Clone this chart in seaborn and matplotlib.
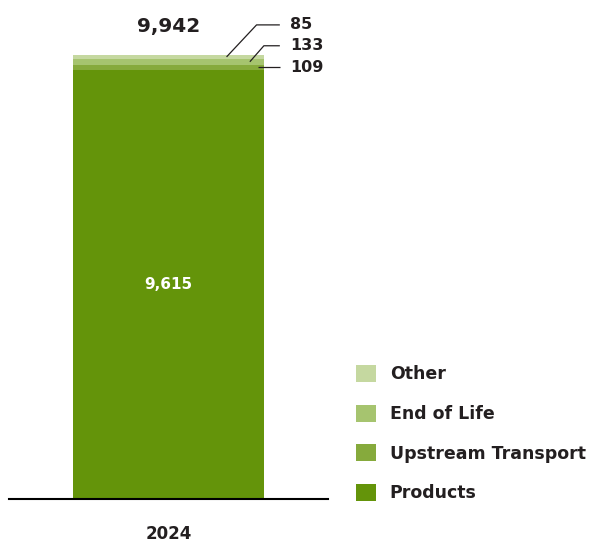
import matplotlib
matplotlib.use("Agg")
import matplotlib.pyplot as plt
import seaborn as sns
import pandas as pd
import numpy as np
from matplotlib.patches import Patch

# Emissions by category for the reporting year
years = ["2024"]
categories = ["Products", "Upstream Transport", "End of Life", "Other"]
values = [9615, 109, 133, 85]
colors = ["#64940a", "#86aa3c", "#a6c46f", "#c5d8a0"]
value_labels = ["9,615", "109", "133", "85"]
total_label = "9,942"

sns.set_theme(style="white")
plt.rcParams["font.family"] = ["DejaVu Sans"]
TEXT = "#231f20"

W, H, DPI = 595, 542, 100
fig = plt.figure(figsize=(W / DPI, H / DPI), dpi=DPI)
ax_left, ax_right, ax_base = 9, 328, 499
ax = fig.add_axes([ax_left / W, (H - ax_base) / H, (ax_right - ax_left) / W, ax_base / H])

total = sum(values)
px_per_unit = 444 / total
ymax = ax_base / px_per_unit
ax.set_ylim(0, ymax)

# stacked bar: draw cumulative heights from the top down
cum = np.cumsum(values)
df = pd.DataFrame({"year": years * len(categories),
                   "category": categories,
                   "cum": cum})
for i in range(len(categories) - 1, -1, -1):
    sns.barplot(data=df.iloc[[i]], x="year", y="cum", color=colors[i],
                width=0.6, saturation=1, ax=ax, linewidth=0)
ax.set_xlim(-0.5, 0.5)

# unit conversions for annotation offsets
dy = 1.0 / px_per_unit            # y data units per pixel

# total on top
ax.text(0, total + 28.3 * dy, total_label, ha="center", va="center",
        fontsize=14.5, fontweight="bold", color=TEXT)

# main segment label
ax.text(0, values[0] / 2, value_labels[0], ha="center", va="center",
        fontsize=11, fontweight="bold", color="white")

# small segment labels with leader lines
bottoms = np.concatenate([[0], cum[:-1]])
mids = bottoms + np.array(values) / 2
line_end_x = 0.349
text_x = 0.380
leaders = {
    # index: (start x, elbow x, elbow rise in px)
    1: (0.281, None, 0),
    2: (0.255, 0.299, 16),
    3: (0.182, 0.276, 32),
}
for i, (x0, xe, rise) in leaders.items():
    y0 = mids[i]
    if xe is None:
        xs, ys = [x0, line_end_x], [y0, y0]
    else:
        ye = y0 + rise * dy
        xs, ys = [x0, xe, line_end_x], [y0, ye, ye]
    ax.plot(xs, ys, color=TEXT, lw=0.9, solid_capstyle="butt", clip_on=False)
    ax.text(text_x, ys[-1], value_labels[i], ha="left", va="center",
            fontsize=11.5, fontweight="bold", color=TEXT)

# axes styling
sns.despine(ax=ax, left=True, top=True, right=True)
ax.spines["bottom"].set_color("black")
ax.spines["bottom"].set_linewidth(1.5)
ax.set_yticks([])
ax.set_xlabel("")
ax.set_ylabel("")
ax.tick_params(axis="x", length=0, pad=19, labelsize=12, colors=TEXT)
for lbl in ax.get_xticklabels():
    lbl.set_fontweight("bold")

# legend, top entry first
handles = [Patch(facecolor=colors[i], edgecolor="none", label=categories[i])
           for i in range(len(categories) - 1, -1, -1)]
fig.legend(handles=handles, loc="upper left",
           bbox_to_anchor=(356 / W, 1 - 365 / H), frameon=False,
           borderpad=0, borderaxespad=0, handlelength=1.15, handleheight=1.15,
           handletextpad=0.8, labelspacing=1.21, labelcolor=TEXT,
           prop={"weight": "bold", "size": 12.5})

fig.savefig("out.png", dpi=DPI)
